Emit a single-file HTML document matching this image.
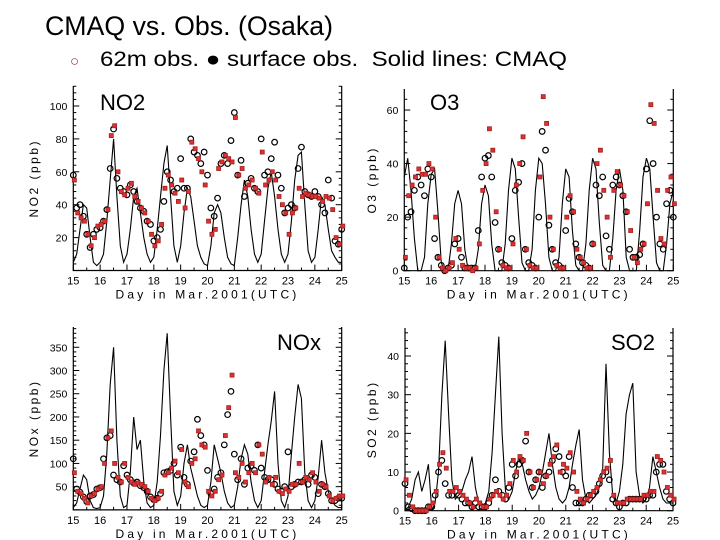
<!DOCTYPE html>
<html><head><meta charset="utf-8"><style>
html,body{margin:0;padding:0;background:#fff;}
svg{display:block;font-family:"Liberation Sans",sans-serif;}
</style></head><body>
<svg id="chart" width="720" height="540" viewBox="0 0 720 540">
<text x="45" y="35" font-size="27" textLength="288" lengthAdjust="spacingAndGlyphs" fill="#000">CMAQ vs. Obs. (Osaka)</text>
<g>
<text x="70" y="66" font-size="15" fill="#a03030">○</text>
<text x="100" y="66" font-size="21" textLength="467" lengthAdjust="spacingAndGlyphs" fill="#000">62m obs. ● surface obs.&#160; Solid lines: CMAQ</text>
</g>
<g id="panels"></g>
</svg>
<script>
const days = [15,16,17,18,19,20,21,22,23,24,25];
const no2Cmaq = [5,10,25,40,38,20,5,3, 5,10,30,55,80,45,15,5, 10,25,45,50,35,20,10,5, 8,25,45,65,76,45,15,5, 15,35,50,45,30,15,8,4, 3,15,35,40,35,20,8,4, 3,20,40,55,45,25,10,5, 10,30,50,60,45,25,10,5, 10,30,55,70,72,40,12,5, 8,25,45,40,25,12,8,5,5];
const no2Surf = [55,35,32,30,22,15,20,27, 28,30,37,82,88,60,48,46, 50,53,45,42,38,35,30,22, 15,18,28,50,58,52,47,42, 55,38,48,78,74,68,60,52, 30,22,25,62,66,70,68,66, 93,58,62,50,52,55,50,47, 72,52,55,60,55,45,40,35, 22,35,38,50,45,47,46,45, 45,44,42,45,44,37,20,16,27];
const no2Obs62 = [58,38,40,33,22,14,22,25, 26,30,37,62,86,56,50,48, 46,52,48,42,38,36,30,28, 18,20,25,42,60,55,48,50, 68,50,50,80,72,70,65,72, 58,38,33,44,65,70,65,79, 96,58,67,45,53,56,50,48, 80,58,60,68,78,58,50,35, 38,40,38,62,75,48,46,45, 48,45,40,35,55,44,18,16,25];
const o3Cmaq = [35,42,30,12,0,0,5,25, 36,38,22,3,0,0,10,25, 30,25,8,0,0,0,8,25, 32,28,10,0,0,0,10,30, 42,38,20,3,0,0,8,30, 42,40,25,5,0,0,5,25, 38,35,15,2,0,0,10,30, 42,38,18,2,0,0,12,30, 38,30,5,0,0,0,15,35, 42,38,20,3,0,0,10,25,30];
const o3Surf = [5,28,32,35,38,36,36,40, 38,20,5,1,0,1,3,12, 8,2,1,1,0,1,10,30, 40,53,45,22,8,2,1,1, 10,32,40,50,8,2,1,1, 35,65,55,20,8,2,1,1, 20,28,22,8,5,3,1,1, 10,40,45,30,20,5,30,37, 32,28,22,15,5,3,8,10, 25,62,55,30,12,10,30,35,25];
const o3Obs62 = [1,20,22,30,35,32,28,38, 35,12,5,2,0,1,2,10, 12,5,1,1,1,1,15,35, 42,43,35,18,8,3,2,1, 12,30,33,40,8,3,2,1, 20,52,45,17,8,3,2,1, 15,27,22,10,5,3,2,1, 10,32,28,35,13,8,32,35, 32,28,22,8,5,5,6,10, 38,56,40,20,10,8,25,30,20];
const noxCmaq = [5,15,45,75,65,20,5,3, 5,30,120,270,350,150,30,5, 10,80,200,130,150,60,15,5, 10,60,160,300,380,200,40,10, 30,100,140,90,60,30,10,5, 10,60,140,110,80,40,15,5, 10,50,110,140,120,60,20,5, 20,80,140,190,255,100,20,5, 30,120,200,270,240,80,20,5, 20,70,150,80,40,20,10,5,5];
const noxSurf = [80,40,35,25,15,30,35,45, 50,100,155,170,100,70,60,100, 70,60,55,58,55,50,40,25, 20,25,40,75,80,90,105,80, 130,60,50,100,110,170,140,135, 40,30,40,65,75,160,220,290, 80,70,100,60,80,100,80,140, 120,60,70,55,70,40,35,45, 40,55,55,100,60,70,65,80, 60,40,55,50,30,20,25,30,30];
const noxObs62 = [110,45,38,28,18,30,33,45, 48,110,155,160,75,65,60,95, 75,65,58,60,52,48,40,28, 22,25,35,80,82,85,100,75, 135,70,55,105,125,195,160,140, 85,35,45,70,80,140,205,255, 120,65,110,55,90,95,85,140, 90,70,65,65,55,45,40,50, 125,50,55,60,60,65,55,75, 70,35,55,50,35,20,20,25,25];
const so2Cmaq = [0,1,3,8,10,5,8,12, 0,2,10,30,44,25,8,3, 4,5,8,10,14,6,2,1, 2,5,15,30,45,20,5,3, 5,10,14,12,8,5,3,4, 6,10,15,20,12,6,3,2, 3,6,12,17,21,8,3,2, 3,4,6,10,38,15,4,2, 5,12,25,30,33,10,4,2, 3,6,14,10,6,3,2,2,2];
const so2Surf = [8,4,1,0,0,0,0,1, 2,5,12,15,11,5,5,6, 5,4,3,2,1,3,2,1, 1,3,4,5,4,3,4,7, 13,10,14,13,20,10,6,8, 10,7,9,12,14,17,10,12, 11,15,10,5,3,2,3,4, 5,6,8,10,11,13,4,2, 2,2,3,3,3,3,3,4, 4,5,5,14,13,10,6,4,3];
const so2Obs62 = [7,1,0.5,0,0,0,0,1, 1,4,10,13,7,4,4,5, 4,3,2,2,1,2,1,1, 1,2,4,8,5,4,3,6, 12,9,12,13,18,10,6,8, 10,6,9,10,13,16,14,10, 9,14,6,2,2,2,3,4, 4,5,7,9,10,8,3,2, 1,2,2,3,3,3,3,3, 3,4,4,10,12,12,5,3,2];
const no2Ticks = [20,40,60,80,100];
const o3Ticks = [0,20,40,60];
const noxTicks = [50,100,150,200,250,300,350];
const so2Ticks = [0,10,20,30,40];

const NS='http://www.w3.org/2000/svg';
const root=document.getElementById('panels');
function mk(tag,attrs,parent){const e=document.createElementNS(NS,tag);for(const k in attrs)e.setAttribute(k,attrs[k]);(parent||root).appendChild(e);return e;}

function panel(p){
  const g=mk('g',{});
  
  
  const xs=t=>p.x0+(t-15)/10*(p.x1-p.x0);
  const ys=v=>p.y0-v*p.sc;
  const yTop=p.top;
  const ax=mk('path',{d:`M${p.x0},${yTop}V${p.y0}H${p.x1}V${yTop}`,fill:'none',stroke:'#000','stroke-width':1.2},g);
  
  
  days.forEach(d=>{
    const x=xs(d);
    mk('line',{x1:x,x2:x,y1:p.y0,y2:p.y0-6,stroke:'#000','stroke-width':1},g);
    if(d<25){const xm=xs(d+0.5);mk('line',{x1:xm,x2:xm,y1:p.y0,y2:p.y0-3,stroke:'#000','stroke-width':1},g);}
    const t=mk('text',{x:x,y:p.y0+14,'font-size':11,'text-anchor':'middle',fill:'#000'},g);
    t.textContent=d;
    
    
  });
  const xt=mk('text',{x:(p.x0+p.x1)/2,y:p.y0+28,'font-size':12,'text-anchor':'middle','letter-spacing':3.2,fill:'#000'},g);
  xt.textContent='Day in Mar.2001(UTC)';
  
  
  const step=p.ticks[1]-p.ticks[0];
  for(let v=0; ys(v)>=yTop; v+=step/5){
    const y=ys(v);
    const major=Math.abs(v/step-Math.round(v/step))<1e-6;
    const len=major?6:3;
    mk('line',{x1:p.x0,x2:p.x0+len,y1:y,y2:y,stroke:'#000','stroke-width':1},g);
    mk('line',{x1:p.x1,x2:p.x1-len,y1:y,y2:y,stroke:'#000','stroke-width':1},g);
  }
  p.ticks.forEach(v=>{
    const t=mk('text',{x:p.x0-6,y:ys(v)+4,'font-size':10.5,'text-anchor':'end',fill:'#000'},g);
    t.textContent=v;
    
    
  });
  const yc=(p.y0+yTop)/2;
  const yt=mk('text',{x:p.ytx,y:yc,'font-size':12,'text-anchor':'middle','letter-spacing':2.5,transform:`rotate(-90 ${p.ytx} ${yc})`,fill:'#000'},g);
  yt.textContent=p.ytitle;
  
  
  const lb=mk('text',{x:p.lx,y:p.ly,'font-size':22,fill:'#000'},g);
  lb.textContent=p.label;
  
  
  const pts=p.cmaq.map((v,i)=>`${xs(15+i*0.125).toFixed(1)},${ys(v).toFixed(1)}`).join(' ');
  const ln=mk('polyline',{points:pts,fill:'none',stroke:'#000','stroke-width':1.1},g);
  
  
  p.obs62.forEach((v,i)=>{
    const c=mk('circle',{cx:xs(15+i*0.125),cy:ys(v),r:2.8,fill:'none',stroke:'#000','stroke-width':1.2},g);
    
    
  });
  p.surf.forEach((v,i)=>{
    const r=mk('rect',{x:xs(15+i*0.125+0.04)-2,y:ys(v)-2,width:4,height:4,fill:'#e03030',stroke:'#a02020','stroke-width':0.8},g);
    
    
  });
}
panel({key:'no2',label:'NO2',ytitle:'NO2 (ppb)',x0:73.3,x1:341.7,y0:270.5,sc:1.645,top:86,ticks:no2Ticks,cmaq:no2Cmaq,obs62:no2Obs62,surf:no2Surf,lx:100,ly:110,ytx:38});
panel({key:'o3',label:'O3',ytitle:'O3 (ppb)',x0:404.3,x1:673.3,y0:270.7,sc:2.678,top:89,ticks:o3Ticks,cmaq:o3Cmaq,obs62:o3Obs62,surf:o3Surf,lx:430,ly:110,ytx:376});
panel({key:'nox',label:'NOx',ytitle:'NOx (ppb)',x0:73.3,x1:341.7,y0:509.9,sc:0.4647,top:327,ticks:noxTicks,cmaq:noxCmaq,obs62:noxObs62,surf:noxSurf,lx:277,ly:350,ytx:38});
panel({key:'so2',label:'SO2',ytitle:'SO2 (ppb)',x0:405,x1:673,y0:510.7,sc:3.867,top:328,ticks:so2Ticks,cmaq:so2Cmaq,obs62:so2Obs62,surf:so2Surf,lx:611,ly:350,ytx:376});
</script>
</body></html>
